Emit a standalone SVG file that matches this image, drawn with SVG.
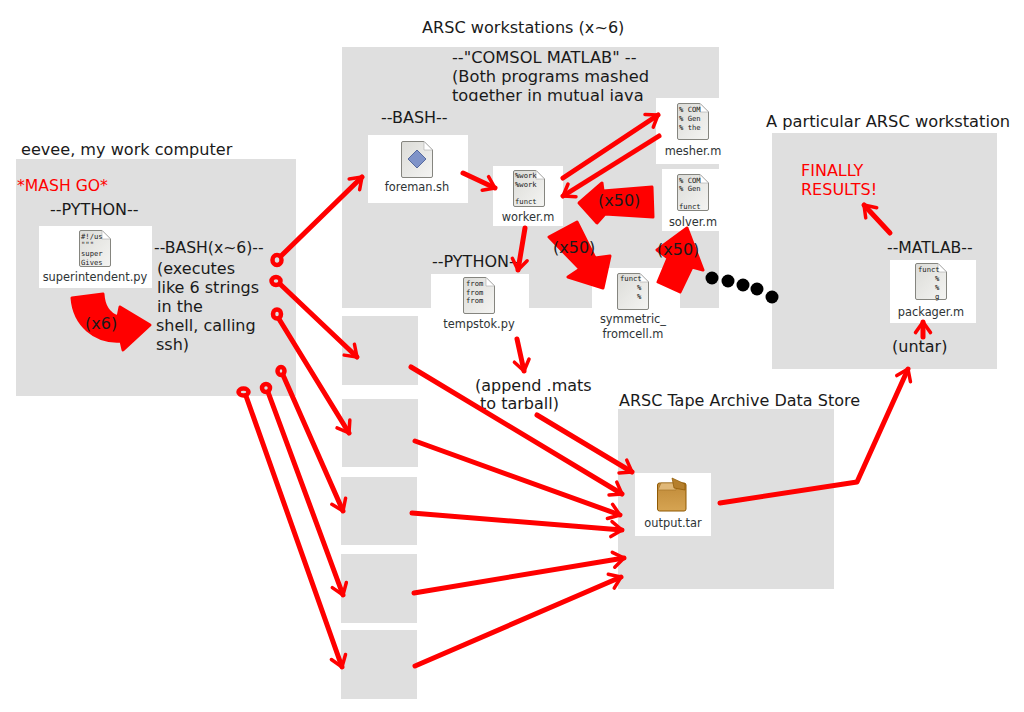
<svg xmlns="http://www.w3.org/2000/svg" width="1024" height="712" viewBox="0 0 1024 712">
<style>
text{font-family:"DejaVu Sans",sans-serif;font-size:16px;fill:#1a1a1a}
.t{font-size:16.25px}
.u{font-size:16.1px}
.n{font-size:15.65px}
.f{font-size:11.4px;text-anchor:middle;fill:#2e3436}
.m{font-family:"DejaVu Sans Mono",monospace;font-size:7.2px;fill:#222}
.r{fill:#f00}
.g{fill:#dfdfdf}
.w{fill:#fff}
.a{fill:none;stroke:#f00;stroke-width:5;stroke-linecap:round;stroke-linejoin:round;marker-end:url(#h)}
.o{fill:none;stroke:#f00;stroke-width:4.5}
.b{fill:#f00;stroke:#f00;stroke-width:3;stroke-linejoin:round}
.d{fill:#000}
</style>
<defs>
<linearGradient id="pg" x1="0" y1="0" x2="1" y2="1"><stop offset="0" stop-color="#dcdcd8"/><stop offset="1" stop-color="#f4f4f2"/></linearGradient>
<linearGradient id="bx" x1="0" y1="0" x2="0" y2="1"><stop offset="0" stop-color="#c08a38"/><stop offset="1" stop-color="#d6a452"/></linearGradient>
<marker id="h" viewBox="-16 -10 20 20" refX="0" refY="0" markerWidth="5" markerHeight="5" markerUnits="strokeWidth" orient="auto" overflow="visible"><path d="M-8.500,-6 L0,0 L-8.500,6" fill="none" stroke="#f00" stroke-width="2.800" stroke-linecap="round" stroke-linejoin="round"/></marker>
<symbol id="doc" viewBox="0 0 32 37" width="32" height="37" overflow="visible"><path d="M2,.5H23L31.5,9V35a1.5,1.5 0 0 1-1.5,1.5H2A1.5,1.500 0 0 1 .5,35V2A1.500,1.500 0 0 1 2,.5Z" fill="url(#pg)" stroke="#85857f"/><path d="M23,.5V9H31.5Z" fill="#fff" stroke="#aaa" stroke-width=".6"/></symbol>
</defs>
<rect width="1024" height="712" fill="#fff"/>
<g id="eevee"><rect class="g" x="16" y="159" width="280" height="237"/><text class="u" x="21" y="155">eevee, my work computer</text><text x="17" y="191" class="r n">*MASH GO*</text><text x="50" y="215">--PYTHON--</text>
<text class="n" x="154" y="253">--BASH(x~6)--</text><text x="157" y="274">(executes</text><text x="157" y="293">like 6 strings</text><text x="157" y="312">in the</text><text x="156" y="331">shell, calling</text><text x="156" y="350">ssh)</text></g>
<g id="arsc-main"><rect class="g" x="342" y="47" width="377" height="261"/><rect class="w" x="592" y="268" width="88" height="40"/><rect class="w" x="431" y="274" width="98" height="34"/>
<text class="u" x="422" y="33">ARSC workstations (x~6)</text>
<text class="t" x="452" y="63">--"COMSOL MATLAB" --</text><text class="t" x="452" y="82">(Both programs mashed</text><text class="t" x="452" y="101">together in mutual java</text><rect class="g" x="450" y="101" width="200" height="8"/>
<text x="381" y="123">--BASH--</text><text x="432" y="267">--PYTHON--</text></g>
<g id="worker-2"><rect class="g" x="342" y="316" width="76" height="69"/></g>
<g id="worker-3"><rect class="g" x="342" y="399" width="76" height="68"/></g>
<g id="worker-4"><rect class="g" x="341" y="477" width="76" height="68"/></g>
<g id="worker-5"><rect class="g" x="341" y="554" width="76" height="69"/></g>
<g id="worker-6"><rect class="g" x="341" y="630" width="76" height="69"/></g>
<g id="particular"><rect class="g" x="772" y="133" width="225" height="236"/><text class="t" x="766" y="127">A particular ARSC workstation</text><text x="801" y="176" class="r">FINALLY</text><text x="801" y="195" class="r">RESULTS!</text><text class="n" x="887" y="253">--MATLAB--</text><text x="892" y="352">(untar)</text></g>
<g id="archive"><rect class="g" x="618" y="409" width="216" height="180"/><text x="619" y="406">ARSC Tape Archive Data Store</text></g>
<g id="append"><text x="475" y="391">(append .mats</text><text x="480" y="409">to tarball)</text></g>
<g id="superintendent"><rect class="w" x="39" y="226" width="113" height="62"/><use href="#doc" x="79" y="230"/><text class="m" x="81" y="239">#!/us</text><text class="m" x="81" y="247">"""</text><text class="m" x="81" y="256">super</text><text class="m" x="81" y="265">Gives</text><text class="f" x="95" y="281">superintendent.py</text></g>
<g id="foreman"><rect class="w" x="368" y="135" width="100" height="68"/><use href="#doc" x="401" y="141"/><path d="M417,150L426,159L417,168L408,159Z" fill="#7f93c8" stroke="#566a9e"/><text class="f" x="417" y="191">foreman.sh</text></g>
<g id="worker"><rect class="w" x="493" y="166" width="70" height="60"/><use href="#doc" x="513" y="170"/><text class="m" x="515" y="178">%work</text><text class="m" x="515" y="187">%work</text><text class="m" x="515" y="204">funct</text><text class="f" x="528" y="221">worker.m</text></g>
<g id="mesher"><rect class="w" x="656" y="98" width="63" height="66"/><use href="#doc" x="677" y="103"/><text class="m" x="679" y="112">% COM</text><text class="m" x="679" y="121">% Gen</text><text class="m" x="679" y="130">% the</text><text class="f" x="693" y="155">mesher.m</text></g>
<g id="solver"><rect class="w" x="662" y="169" width="57" height="62"/><use href="#doc" x="677" y="174"/><text class="m" x="679" y="183">% COM</text><text class="m" x="679" y="191">% Gen</text><text class="m" x="679" y="209">funct</text><text class="f" x="693" y="226">solver.m</text></g>
<g id="tempstok"><use href="#doc" x="463" y="277"/><text class="m" x="466" y="286">from</text><text class="m" x="466" y="295">from</text><text class="m" x="466" y="303">from</text><text class="f" x="479" y="328">tempstok.py</text></g>
<g id="symmetric"><use href="#doc" x="617" y="273"/><text class="m" x="620" y="281">funct</text><text class="m" x="637" y="290">%</text><text class="m" x="637" y="299">%</text><text class="f" x="633" y="323">symmetric_</text><text class="f" x="633" y="338">fromcell.m</text></g>
<g id="packager"><rect class="w" x="890" y="260" width="86" height="63"/><use href="#doc" x="915" y="263"/><text class="m" x="918" y="272">funct</text><text class="m" x="935" y="281">%</text><text class="m" x="935" y="290">%</text><text class="m" x="935" y="299">g</text><text class="f" x="931" y="316">packager.m</text></g>
<g id="output"><rect class="w" x="635" y="473" width="76" height="63"/><rect x="657.500" y="483" width="28.500" height="28" rx="2" fill="url(#bx)" stroke="#8f5902"/><path d="M658,490L661,483H676V490Z" fill="#e0b878" stroke="#a8752a" stroke-width=".7"/><path d="M672,478L685,484V490L674,488Z" fill="#b57f2c" stroke="#8f5902" stroke-width=".7"/><text class="f" x="673" y="527">output.tar</text></g>
<g id="connectors">
<ellipse class="o" cx="277" cy="260" rx="4.500" ry="5"/><ellipse class="o" cx="276" cy="281" rx="4.500" ry="4"/><ellipse class="o" cx="277" cy="314" rx="4" ry="4.500"/><ellipse class="o" cx="281" cy="371" rx="3.500" ry="4"/><ellipse class="o" cx="266" cy="388" rx="4" ry="4"/><ellipse class="o" cx="243.500" cy="392" rx="5" ry="3.500"/>
<path class="a" d="M281,256L362,177"/><path class="a" d="M280,284L357,357"/><path class="a" d="M279,319L349,433"/><path class="a" d="M283,375L343,511"/><path class="a" d="M268,392L343,595"/><path class="a" d="M246,396L342,667"/>
<path class="a" d="M411,367L622,494"/><path class="a" d="M415,441L620,515"/><path class="a" d="M412,513L622,530"/><path class="a" d="M414,593L624,558"/><path class="a" d="M415,666L621,577"/><path class="a" d="M537,415L632,472"/>
<path class="a" d="M720,503L857,482L908,369"/><path class="a" d="M463,173L495,188"/><path class="a" d="M563,178L658,115"/><path class="a" d="M659,136L563,196"/><path class="a" d="M525,228L518,270"/><path class="a" d="M517,339L524,371"/><path class="a" d="M923,337L923,322"/><path class="a" d="M890,233L864,205"/>
<path class="b" d="M579,203L602,183L603,191L652,187L653,217L605,214L597,223Z"/><path class="b" d="M549,237L577,222L595,258L610,256L603,288L568,277L580,269Z"/><path class="b" d="M687,228L703,270L692,267L680,292L658,282L668,258L657,250Z"/>
<path class="b" d="M72,298L103,294Q104,312 118,317L120,307L150,325L123,350L121,341C95,343 74,325 72,298Z"/>
<circle class="d" cx="712" cy="278" r="6.500"/><circle class="d" cx="728" cy="281" r="6.500"/><circle class="d" cx="743" cy="285" r="6.500"/><circle class="d" cx="757" cy="289" r="6.500"/><circle class="d" cx="772" cy="297" r="6.500"/>
</g>
<g id="labels"><text x="85" y="329">(x6)</text><text x="598" y="206">(x50)</text><text x="553" y="253">(x50)</text><text x="657" y="255">(x50)</text></g>
</svg>
